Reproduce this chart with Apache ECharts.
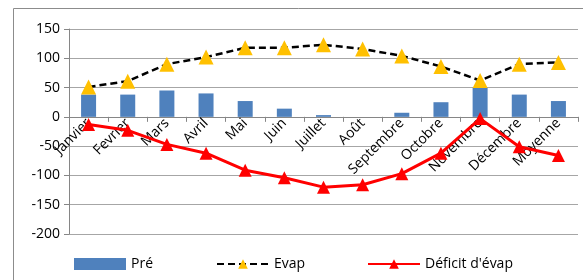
<!DOCTYPE html>
<html>
<head>
<meta charset="utf-8">
<script src="https://cdn.jsdelivr.net/npm/echarts@6/dist/echarts.min.js"></script>
<style>
    html, body { margin: 0; padding: 0; background: #fff; }
    #main { width: 583px; height: 280px; }
</style>
</head>
<body>
<div id="main"></div>
<script>
// catégories et valeurs
var months = ['Janvier', 'Fevrier', 'Mars', 'Avril', 'Mai', 'Juin', 'Juillet', 'Août',
    'Septembre', 'Octobre', 'Novembre', 'Décembre', 'Moyenne']
var pre = [38, 38, 45, 40, 27, 14, 3, 0, 7, 25, 50, 38, 27]
var evap = [51, 61, 90, 102, 118, 118, 123, 116, 104, 86, 62, 90, 93]
var deficit = [-13, -23, -47, -62, -91, -104, -120, -116, -97, -62, -3, -51, -66]
var yTicks = [-200, -150, -100, -50, 0, 50, 100, 150]

var myChart = echarts.init(document.getElementById('main'))
var font = 'Open Sans'
var legendText = { fontFamily: font, fontSize: 14, color: '#000' }

// grille : l'axe des catégories doit passer par 0
var gridTop = 29
var gridBottom = 46
var gridHeight = 280 - gridTop - gridBottom
var yMin = yTicks[0]
var yMax = yTicks[yTicks.length - 1]
var zeroOffset = -gridHeight * (0 - yMin) / (yMax - yMin)

// une légende par série pour placer chaque entrée comme sur l'original
function legendAt (left, name, icon) {
    var item = { name: name }
    if (icon) item.icon = icon
    return {
        top: 252,
        left: left,
        itemWidth: 52,
        itemHeight: 12,
        textStyle: legendText,
        data: [item]
    }
}

var option = {
    animation: false,
    textStyle: { fontFamily: font },
    grid: { left: 69, right: 5, top: gridTop, bottom: gridBottom, outerBoundsMode: 'none', containLabel: false },
    // cadre du graphique
    graphic: [{
        type: 'rect',
        shape: { x: 13.5, y: 8.5, width: 600, height: 300 },
        style: { fill: 'none', stroke: '#8c8c8c', lineWidth: 1 },
        z: -1
    }],
    legend: [
        legendAt(69, 'Pré', 'rect'),
        legendAt(211, 'Evap'),
        legendAt(362, "Déficit d'évap")
    ],
    xAxis: {
        type: 'category',
        data: months,
        offset: zeroOffset,
        axisLine: { onZero: false, lineStyle: { color: '#868686' } },
        axisTick: { show: true, length: 5, lineStyle: { color: '#868686' } },
        axisLabel: { rotate: 45, fontSize: 14, color: '#000', margin: 4, interval: 0 }
    },
    yAxis: {
        type: 'value',
        min: yMin,
        max: yMax,
        interval: 50,
        axisLine: { show: true, onZero: false, lineStyle: { color: '#868686' } },
        axisTick: { show: true, length: 5, lineStyle: { color: '#868686' } },
        axisLabel: { fontSize: 14, color: '#000', margin: 9 },
        splitLine: { lineStyle: { color: '#a6a6a6', width: 1 } }
    },
    series: [
        {
            name: 'Pré',
            type: 'bar',
            data: pre,
            barWidth: 15,
            itemStyle: { color: '#4F81BD' }
        },
        {
            name: 'Evap',
            type: 'line',
            data: evap,
            symbol: 'triangle',
            symbolSize: 15,
            itemStyle: { color: '#FFC000' },
            lineStyle: { color: '#000', width: 2.5, type: [7, 4] },
            z: 3
        },
        {
            name: "Déficit d'évap",
            type: 'line',
            data: deficit,
            symbol: 'triangle',
            symbolSize: 13,
            itemStyle: { color: '#FF0000' },
            lineStyle: { color: '#FF0000', width: 3 },
            z: 4
        }
    ]
}

myChart.setOption(option)
</script>
</body>
</html>
